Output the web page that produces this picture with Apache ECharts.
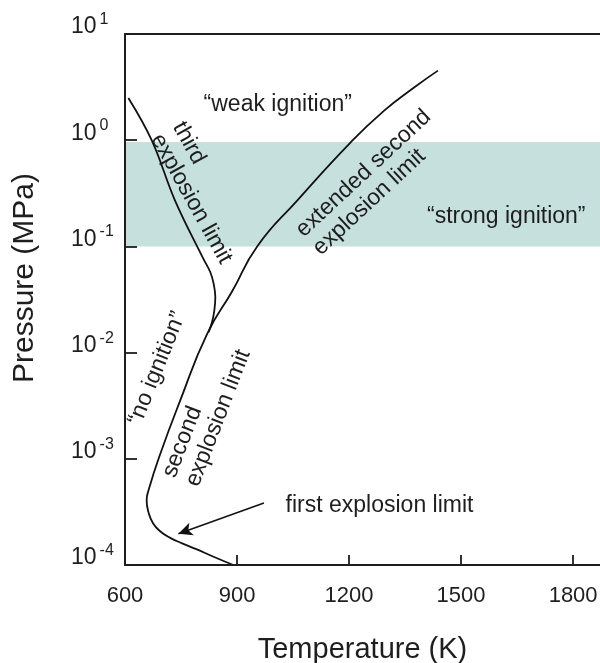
<!DOCTYPE html>
<html>
<head>
<meta charset="utf-8">
<script src="https://cdn.jsdelivr.net/npm/echarts@6/dist/echarts.min.js"></script>
<style>
  html, body { margin: 0; padding: 0; background: #fff; }
  #chart { width: 600px; height: 663px; }
</style>
</head>
<body>
<div id="chart"></div>
<script>
// Third explosion limit (temperature K, pressure MPa)
const thirdLimitT = [609, 672, 734, 810, 828.5, 837.4, 841.9, 839.2, 833, 823.9];
const thirdLimitP = [2.5, 0.99, 0.27, 0.0763, 0.0571, 0.0445, 0.0333, 0.0249, 0.0193, 0.0156];

// First + second + extended second explosion limit, one continuous curve
const lowerLimitT = [890, 834, 791, 753, 721, 694, 675, 663, 658, 663, 691, 748,
                     820, 887, 954, 1061, 1205, 1294, 1375, 1438];
const lowerLimitP = [1.0e-4, 1.21e-4, 1.41e-4, 1.60e-4, 1.80e-4, 2.08e-4, 2.47e-4, 3.13e-4, 4.06e-4, 5.05e-4, 1.03e-3, 3.55e-3,
                     0.015, 0.0378, 0.1, 0.27, 0.96, 1.9, 3.15, 4.52];

// Pressure band of "strong ignition"
const strongBandP = [0.1, 0.96];

// Axis ranges
const tempRange = [600, 1872];
const tempStep = 300;
const pressureRange = [1e-4, 10];

const FONT = '"Liberation Sans", Arial, Helvetica, sans-serif';
const INK = '#1e1e1e';

const pairs = (xs, ys) => xs.map((x, i) => [x, ys[i]]);

const chart = echarts.init(document.getElementById('chart'));

chart.setOption({
  backgroundColor: '#ffffff',
  animation: false,
  grid: { left: 125, top: 34, right: 0, bottom: 98, containLabel: false, outerBoundsMode: 'none' },
  xAxis: [{
    type: 'value',
    min: tempRange[0], max: tempRange[1], interval: tempStep,
    z: 5,
    name: 'Temperature (K)',
    nameLocation: 'middle',
    nameGap: 70,
    nameTextStyle: { fontFamily: FONT, fontSize: 29, color: INK },
    axisLine: { show: true, lineStyle: { color: INK, width: 2 } },
    axisTick: { show: true, inside: true, length: 10, lineStyle: { color: INK, width: 1.8 } },
    axisLabel: {
      show: true, margin: 20, fontFamily: FONT, fontSize: 22, color: INK,
      showMaxLabel: false, formatter: v => String(v)
    },
    splitLine: { show: false }
  }, {
    type: 'value', position: 'top',
    min: tempRange[0], max: tempRange[1],
    z: 5,
    axisLine: { show: true, lineStyle: { color: INK, width: 2 } },
    axisTick: { show: false }, axisLabel: { show: false }, splitLine: { show: false }
  }],
  yAxis: {
    type: 'log', logBase: 10,
    min: pressureRange[0], max: pressureRange[1],
    z: 5,
    axisLine: { show: true, lineStyle: { color: INK, width: 2 } },
    axisTick: { show: true, inside: true, length: 12, lineStyle: { color: INK, width: 1.8 } },
    splitLine: { show: false },
    axisLabel: {
      align: 'left',
      margin: 54,
      padding: [0, 0, 18, 0],
      formatter: v => '{b|10}{e|' + Math.round(Math.log10(v)) + '}',
      rich: {
        b: { fontFamily: FONT, fontSize: 23, color: INK, lineHeight: 27, verticalAlign: 'bottom' },
        e: { fontFamily: FONT, fontSize: 16, color: INK, verticalAlign: 'top', padding: [0, 0, 0, 3] }
      }
    }
  },
  series: [
    {
      name: 'band', type: 'line', data: [], z: 1, silent: true,
      markArea: {
        silent: true,
        itemStyle: { color: '#c6e0dd', opacity: 1 },
        data: [[{ yAxis: strongBandP[0] }, { yAxis: strongBandP[1] }]]
      }
    },
    {
      name: 'third explosion limit', type: 'line', z: 3,
      data: pairs(thirdLimitT, thirdLimitP),
      smooth: 0.4, showSymbol: false, symbol: 'none',
      lineStyle: { color: '#111', width: 1.8 }
    },
    {
      name: 'first and second explosion limit', type: 'line', z: 3,
      data: pairs(lowerLimitT, lowerLimitP),
      smooth: 0.5, showSymbol: false, symbol: 'none',
      lineStyle: { color: '#111', width: 1.8 },
      markLine: {
        silent: true,
        symbol: ['none', 'arrow'],
        symbolSize: [10, 14],
        label: { show: false },
        lineStyle: { color: '#111', width: 1.5, type: 'solid' },
        data: [[{ coord: [972, 3.83e-4] }, { coord: [743, 1.97e-4] }]]
      }
    }
  ]
});

// Annotations anchored in data space
const px = (t, p) => chart.convertToPixel({ xAxisIndex: 0, yAxisIndex: 0 }, [t, p]);
const deg = d => d * Math.PI / 180;
const txt = (t, p, text, opts) => {
  const [x, y] = px(t, p);
  return {
    type: 'text', x, y, rotation: deg(opts.rot || 0), z: 10,
    style: {
      text, fill: INK, font: (opts.size || 23) + 'px ' + FONT,
      align: opts.align || 'center', verticalAlign: 'middle', lineHeight: 25
    }
  };
};

chart.setOption({
  graphic: [
    txt(1009, 2.15, '\u201Cweak ignition\u201D', {}),
    txt(1621, 0.19, '\u201Cstrong ignition\u201D', {}),
    txt(713, 1.26, 'third\nexplosion limit', { rot: -61, align: 'left' }),
    txt(1090, 0.1094, 'extended second\nexplosion limit', { rot: 43, align: 'left' }),
    txt(749, 6.17e-4, 'second\nexplosion limit', { rot: 69, align: 'left' }),
    txt(686, 7.1e-3, '\u201Cno ignition\u201D', { rot: 68 }),
    txt(1030, 3.6e-4, 'first explosion limit', { align: 'left' }),
    {
      type: 'text', x: 25, y: 278, rotation: deg(90), z: 10,
      style: { text: 'Pressure (MPa)', fill: INK, font: '30px ' + FONT, align: 'center', verticalAlign: 'middle' }
    }
  ]
});
</script>
</body>
</html>
